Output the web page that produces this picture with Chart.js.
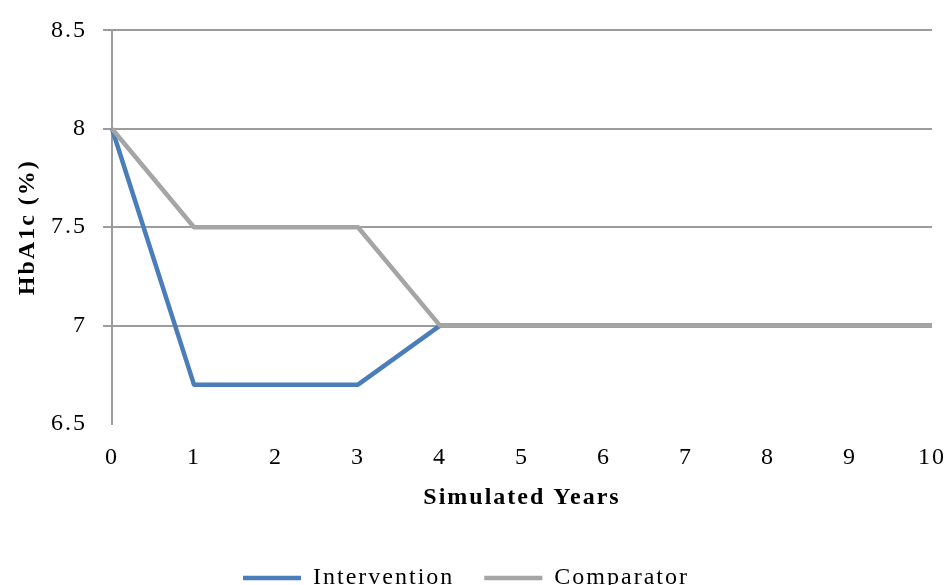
<!DOCTYPE html>
<html>
<head>
<meta charset="utf-8">
<script src="https://cdn.jsdelivr.net/npm/chart.js@4/dist/chart.umd.min.js"></script>
<style>
    html, body { margin: 0; padding: 0; background: #fff; overflow: hidden; }
    #wrap { width: 947px; height: 585px; overflow: hidden; }
</style>
</head>
<body>
<div id="wrap"><canvas id="Chart1" width="947" height="600"></canvas></div>
<script>
// simulated HbA1c per year
const years = ['0', '1', '2', '3', '4', '5', '6', '7', '8', '9', '10'];
const intervention = [8, 6.7, 6.7, 6.7, 7, 7, 7, 7, 7, 7, 7];
const comparator = [8, 7.5, 7.5, 7.5, 7, 7, 7, 7, 7, 7, 7];
const yTicks = [6.5, 7, 7.5, 8, 8.5];

const serif = 'Liberation Serif';
const gridGray = '#9c9c9c';

// wide letter spacing for every label on the canvas
const spacingPlugin = {
    id: 'spacing',
    beforeLayout: function (chart) {
        chart.ctx.letterSpacing = '2px';
    },
    beforeDraw: function (chart) {
        chart.ctx.letterSpacing = '2px';
    }
};

window.onload = function () {
    createHba1cChart();
};

function createHba1cChart() {
    const ctx = document.getElementById('Chart1').getContext('2d');
    new Chart(ctx, {
        type: 'line',
        plugins: [spacingPlugin],
        data: {
            labels: years,
            datasets: [{
                    label: 'Intervention',
                    data: intervention,
                    borderColor: '#4a7ebb',
                    backgroundColor: '#4a7ebb',
                    borderWidth: 4.5,
                    borderJoinStyle: 'round',
                    pointRadius: 0,
                    tension: 0,
                    order: 1
                }, {
                    label: 'Comparator',
                    data: comparator,
                    borderColor: '#a5a5a5',
                    backgroundColor: '#a5a5a5',
                    borderWidth: 4.5,
                    borderJoinStyle: 'round',
                    pointRadius: 0,
                    tension: 0,
                    order: 0
                }]
        },
        options: {
            responsive: false,
            animation: false,
            layout: {padding: {left: 0, top: 30, right: 15, bottom: 0}},
            plugins: {
                tooltip: {enabled: false},
                legend: {
                    position: 'bottom',
                    labels: {
                        usePointStyle: true,
                        pointStyle: 'line',
                        pointStyleWidth: 58,
                        padding: 30,
                        color: '#000',
                        font: {family: serif, size: 24},
                        sort: (a, b) => a.datasetIndex - b.datasetIndex
                    }
                }
            },
            scales: {
                x: {
                    offset: false,
                    grid: {display: false, drawTicks: false},
                    border: {display: false},
                    ticks: {color: '#000', padding: 19, maxRotation: 0, font: {family: serif, size: 24}},
                    title: {
                        display: true,
                        text: 'Simulated Years',
                        color: '#000',
                        font: {family: serif, size: 24, weight: 'bold'},
                        padding: {top: 0, bottom: 24}
                    },
                    afterFit: function (scale) {
                        scale.height = 112;
                        scale.paddingLeft = 0;
                        scale.paddingRight = 0;
                    }
                },
                y: {
                    min: 6.5,
                    max: 8.5,
                    afterBuildTicks: function (scale) {
                        scale.ticks = yTicks.map(v => ({value: v}));
                    },
                    grid: {
                        color: c => (c.tick && c.tick.value === 6.5) ? 'rgba(0,0,0,0)' : gridGray,
                        lineWidth: 2,
                        tickLength: 9
                    },
                    border: {display: true, color: gridGray, width: 2},
                    ticks: {
                        color: '#000',
                        padding: 16,
                        font: {family: serif, size: 24},
                        callback: v => String(v)
                    },
                    title: {
                        display: true,
                        text: 'HbA1c (%)',
                        color: '#000',
                        font: {family: serif, size: 24, weight: 'bold'},
                        padding: {top: 13, bottom: 0}
                    },
                    afterFit: function (scale) {
                        scale.width = 112;
                    }
                }
            }
        }
    });
}
</script>
</body>
</html>
